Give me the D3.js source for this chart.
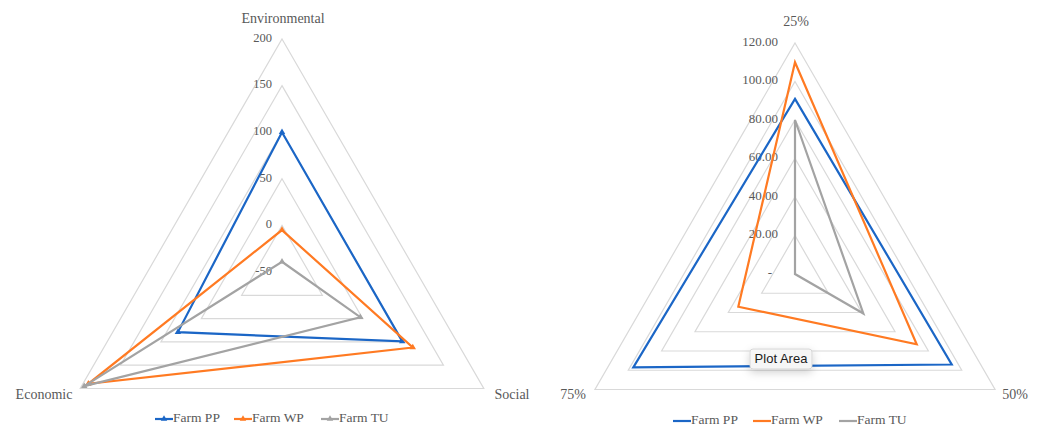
<!DOCTYPE html>
<html>
<head>
<meta charset="utf-8">
<script src="https://cdn.jsdelivr.net/npm/d3@7"></script>
<style>
  html, body { margin: 0; padding: 0; background: #ffffff; }
  svg { display: block; }
</style>
</head>
<body>
<svg id="chart" width="1038" height="428"></svg>
<script>
// ---------------- data ----------------
const seriesNames = ["Farm PP", "Farm WP", "Farm TU"];
const seriesColors = ["#1b66c6", "#ff7a22", "#a3a3a3"];

// Left radar
const leftCategories = ["Environmental", "Social", "Economic"];
const leftPP = [100, 99, 79];
const leftWP = [-5, 112, 190];
const leftTU = [-39, 47, 195];
const leftTicks = [-50, 0, 50, 100, 150, 200];
const leftTickLabels = ["-50", "0", "50", "100", "150", "200"];

// Right radar
const rightCategories = ["25%", "50%", "75%"];
const rightPP = [91, 94, 97];
const rightWP = [110, 73, 34];
const rightTU = [80, 41, 0];
const rightTicks = [0, 20, 40, 60, 80, 100, 120];
const rightTickLabels = ["-", "20.00", "40.00", "60.00", "80.00", "100.00", "120.00"];

// ---------------- drawing ----------------
const svg = d3.select("#chart");
const defs = svg.append("defs");
const flt = defs.append("filter").attr("id", "shadow").attr("x", "-30%").attr("y", "-50%").attr("width", "160%").attr("height", "250%");
flt.append("feDropShadow").attr("dx", 0).attr("dy", 3).attr("stdDeviation", 4).attr("flood-color", "#000").attr("flood-opacity", 0.18);

const serif = "'Liberation Serif', 'DejaVu Serif', serif";
const textColor = "#595959";

function radar(opts) {
  const g = svg.append("g");
  const { cx, cy, R, domain, ticks, tickLabels, categories, series, markers, tickFontSize, tickOffset, labelPos } = opts;
  const r = d3.scaleLinear().domain(domain).range([0, R]);
  const angle = i => (-90 + i * 120) * Math.PI / 180;
  const pt = (v, i) => [cx + r(v) * Math.cos(angle(i)), cy + r(v) * Math.sin(angle(i))];

  // grid rings
  g.selectAll("path.ring")
    .data(ticks.filter(t => r(t) > 0.5))
    .join("path")
    .attr("class", "ring")
    .attr("d", t => d3.line()(categories.map((c, i) => pt(t, i))) + "Z")
    .attr("fill", "none")
    .attr("stroke", "#d9d9d9")
    .attr("stroke-width", 1.2);

  // tick labels
  g.selectAll("text.tick")
    .data(ticks)
    .join("text")
    .attr("class", "tick")
    .attr("x", (t, i) => cx - tickOffset - (tickLabels[i] === "-" ? 6 : 0))
    .attr("y", t => cy - r(t))
    .attr("text-anchor", "end")
    .attr("dominant-baseline", "middle")
    .attr("font-family", serif)
    .attr("font-size", tickFontSize)
    .attr("fill", textColor)
    .text((t, i) => tickLabels[i]);

  // category labels
  g.selectAll("text.cat")
    .data(categories)
    .join("text")
    .attr("class", "cat")
    .attr("x", (c, i) => labelPos[i][0])
    .attr("y", (c, i) => labelPos[i][1])
    .attr("text-anchor", "middle")
    .attr("dominant-baseline", "middle")
    .attr("font-family", serif)
    .attr("font-size", 14)
    .attr("fill", textColor)
    .text(c => c);

  // series
  series.forEach((vals, si) => {
    const pts = vals.map((v, i) => pt(v, i));
    g.append("path")
      .attr("d", d3.line()(pts) + "Z")
      .attr("fill", "none")
      .attr("stroke", seriesColors[si])
      .attr("stroke-width", 2.2)
      .attr("stroke-linejoin", "miter");
    if (markers) {
      g.selectAll(null)
        .data(pts)
        .join("path")
        .attr("transform", d => `translate(${d[0]},${d[1]})`)
        .attr("d", d3.symbol(d3.symbolTriangle, 18)())
        .attr("fill", seriesColors[si]);
    }
  });

  // legend
  const lg = g.append("g");
  seriesNames.forEach((name, si) => {
    const x0 = opts.legendX[si];
    const y0 = opts.legendY;
    lg.append("line")
      .attr("x1", x0).attr("x2", x0 + 18)
      .attr("y1", y0).attr("y2", y0)
      .attr("stroke", seriesColors[si])
      .attr("stroke-width", 2.2);
    if (markers) {
      lg.append("path")
        .attr("transform", `translate(${x0 + 9},${y0})`)
        .attr("d", d3.symbol(d3.symbolTriangle, 18)())
        .attr("fill", seriesColors[si]);
    }
    lg.append("text")
      .attr("x", x0 + 18)
      .attr("y", y0)
      .attr("dominant-baseline", "middle")
      .attr("font-family", serif)
      .attr("font-size", 13.5)
      .attr("fill", textColor)
      .text(name);
  });
  return g;
}

radar({
  cx: 282, cy: 272, R: 233,
  domain: [leftTicks[0], leftTicks[leftTicks.length - 1]],
  ticks: leftTicks, tickLabels: leftTickLabels,
  categories: leftCategories,
  series: [leftPP, leftWP, leftTU],
  markers: true,
  tickFontSize: 12.5, tickOffset: 10,
  labelPos: [[283, 20], [512, 396], [44, 396]],
  legendX: [155, 234, 321], legendY: 419
});

radar({
  cx: 795, cy: 274, R: 231,
  domain: [rightTicks[0], rightTicks[rightTicks.length - 1]],
  ticks: rightTicks, tickLabels: rightTickLabels,
  categories: rightCategories,
  series: [rightPP, rightWP, rightTU],
  markers: false,
  tickFontSize: 13, tickOffset: 17,
  labelPos: [[796, 23], [1015, 396], [573, 396]],
  legendX: [673, 753, 839], legendY: 421
});

// "Plot Area" tooltip
const tip = svg.append("g").attr("transform", "translate(750,349)");
tip.append("rect")
  .attr("width", 62).attr("height", 20).attr("rx", 3)
  .attr("fill", "#f6f6f6").attr("stroke", "#cfcfcf").attr("stroke-width", 0.8)
  .attr("filter", "url(#shadow)");
tip.append("text")
  .attr("x", 31).attr("y", 10.5)
  .attr("text-anchor", "middle").attr("dominant-baseline", "middle")
  .attr("font-family", "'Liberation Sans', Arial, sans-serif")
  .attr("font-size", 13)
  .attr("fill", "#1a1a1a")
  .text("Plot Area");
</script>
</body>
</html>
